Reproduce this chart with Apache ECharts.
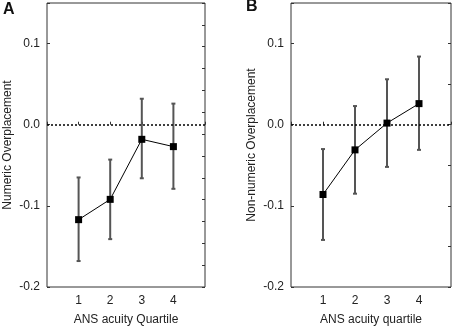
<!DOCTYPE html>
<html>
<head>
<meta charset="utf-8">
<script src="https://cdn.jsdelivr.net/npm/echarts@6/dist/echarts.min.js"></script>
<style>
  html, body { margin: 0; padding: 0; background: #fff; }
  #chart { width: 454px; height: 331px; }
</style>
</head>
<body>
<div id="chart"></div>
<script>
// quartiles of ANS acuity
const quartiles = [1, 2, 3, 4]

// panel A: numeric overplacement
const numericMean = [-0.117, -0.092, -0.018, -0.027]
const numericLow = [-0.168, -0.141, -0.066, -0.079]
const numericHigh = [-0.065, -0.043, 0.032, 0.026]

// panel B: non-numeric overplacement
const nonNumericMean = [-0.086, -0.031, 0.002, 0.026]
const nonNumericLow = [-0.142, -0.085, -0.052, -0.031]
const nonNumericHigh = [-0.030, 0.023, 0.056, 0.084]

const yTickLabels = ['-0.2', '-0.1', '0.0', '0.1']

const font = 'Liberation Sans, Arial, sans-serif'
const textColor = '#222'
const boxColor = '#333'

const makeX = (gridIndex, name) => ({
    type: 'value',
    gridIndex,
    min: 0,
    max: 5,
    interval: 1,
    name,
    nameLocation: 'middle',
    nameGap: 27,
    nameTextStyle: { fontFamily: font, fontSize: 12, color: textColor },
    axisLine: { show: false },
    axisTick: { show: true, inside: true, length: 3, lineStyle: { color: boxColor } },
    axisLabel: {
        margin: 8,
        fontFamily: font,
        fontSize: 12,
        color: textColor,
        formatter: v => (v >= 1 && v <= 4 ? String(v) : '')
    },
    splitLine: { show: false }
})

const makeY = (gridIndex, name) => ({
    type: 'value',
    gridIndex,
    min: -0.2,
    max: 0.15,
    interval: 0.1,
    name,
    nameLocation: 'middle',
    nameGap: 33,
    nameTextStyle: { fontFamily: font, fontSize: 12, color: textColor },
    axisLine: { show: false },
    axisTick: { show: true, inside: true, length: 3, lineStyle: { color: boxColor } },
    axisLabel: {
        margin: 7,
        fontFamily: font,
        fontSize: 12,
        color: textColor,
        formatter: v => {
            const s = v.toFixed(1)
            return yTickLabels.includes(s) && Math.abs(v * 10 - Math.round(v * 10)) < 1e-6 ? s : ''
        }
    },
    splitLine: { show: false }
})

// right side minor ticks
const makeRight = (gridIndex, min, max, interval) => ({
    type: 'value',
    gridIndex,
    position: 'right',
    min,
    max,
    interval,
    axisLine: { show: false },
    axisTick: { show: true, inside: true, length: 3, lineStyle: { color: boxColor } },
    axisLabel: { show: false },
    splitLine: { show: false }
})

const errorBars = (xAxisIndex, yAxisIndex, low, high) => ({
    type: 'custom',
    xAxisIndex,
    yAxisIndex,
    z: 2,
    silent: true,
    data: quartiles.map((q, i) => [q, low[i], high[i]]),
    encode: { x: 0, y: [1, 2] },
    renderItem: (params, api) => {
        const lo = api.coord([api.value(0), api.value(1)])
        const hi = api.coord([api.value(0), api.value(2)])
        const style = { stroke: '#555', lineWidth: 2 }
        const cap = 2
        return {
            type: 'group',
            children: [
                { type: 'line', shape: { x1: lo[0], y1: lo[1], x2: hi[0], y2: hi[1] }, style },
                { type: 'line', shape: { x1: lo[0] - cap, y1: lo[1], x2: lo[0] + cap, y2: lo[1] }, style },
                { type: 'line', shape: { x1: hi[0] - cap, y1: hi[1], x2: hi[0] + cap, y2: hi[1] }, style }
            ]
        }
    }
})

const meanLine = (xAxisIndex, yAxisIndex, mean) => ({
    type: 'line',
    xAxisIndex,
    yAxisIndex,
    z: 3,
    data: quartiles.map((q, i) => [q, mean[i]]),
    symbol: 'rect',
    symbolSize: 7,
    itemStyle: { color: '#000' },
    lineStyle: { color: '#000', width: 1 },
    animation: false,
    markLine: {
        silent: true,
        symbol: 'none',
        label: { show: false },
        lineStyle: { color: '#000', width: 1.5, type: [2, 2] },
        data: [{ yAxis: 0 }]
    }
})

const chart = echarts.init(document.getElementById('chart'))
chart.setOption({
    animation: false,
    grid: [
        { left: 47, top: 3, width: 158, height: 286, show: true, borderColor: boxColor, borderWidth: 1 },
        { left: 291, top: 3, width: 161, height: 286, show: true, borderColor: boxColor, borderWidth: 1 }
    ],
    xAxis: [
        makeX(0, 'ANS acuity Quartile'),
        makeX(1, 'ANS acuity quartile')
    ],
    yAxis: [
        makeY(0, 'Numeric Overplacement'),
        makeY(1, 'Non-numeric Overplacement'),
        makeRight(0, 0, 13, 1),
        makeRight(1, -0.2, 0.15, 0.05)
    ],
    graphic: [
        { type: 'text', left: 3, top: 2, style: { text: 'A', font: 'bold 16px ' + font, fill: '#111' } },
        { type: 'text', left: 246, top: -1, style: { text: 'B', font: 'bold 16px ' + font, fill: '#111' } }
    ],
    series: [
        errorBars(0, 0, numericLow, numericHigh),
        meanLine(0, 0, numericMean),
        errorBars(1, 1, nonNumericLow, nonNumericHigh),
        meanLine(1, 1, nonNumericMean)
    ]
})
</script>
</body>
</html>
